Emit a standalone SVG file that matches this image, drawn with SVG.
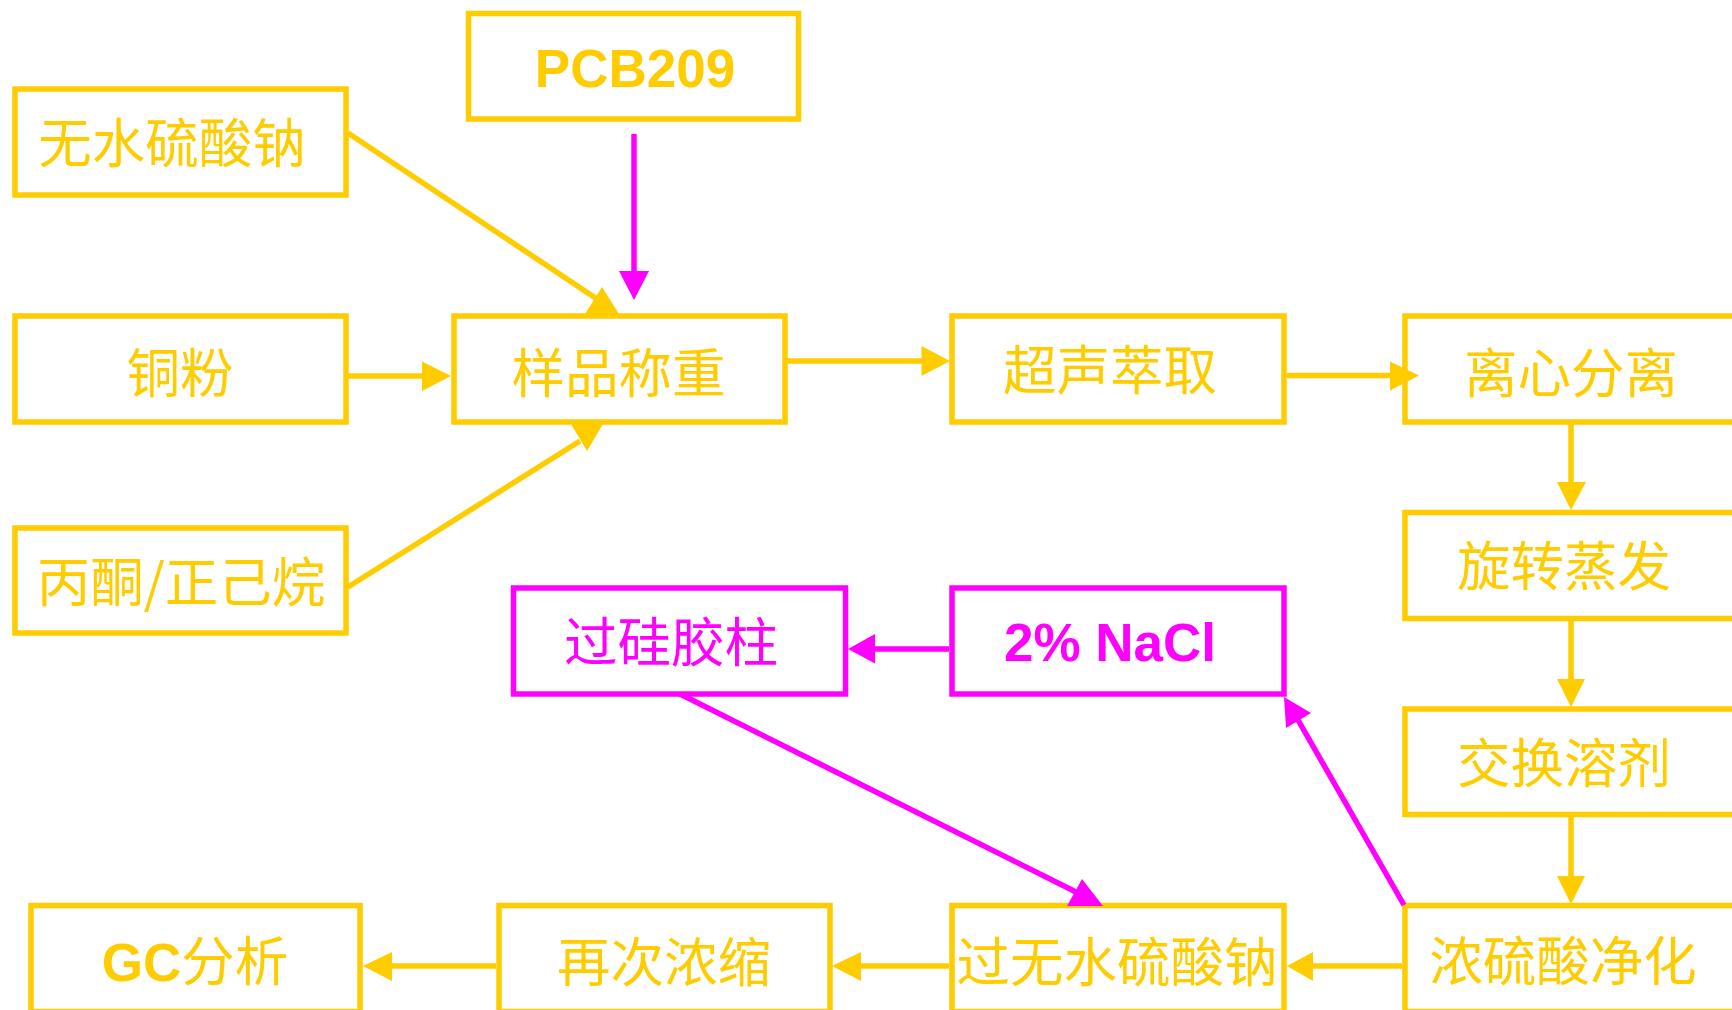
<svg xmlns="http://www.w3.org/2000/svg" width="1732" height="1010" viewBox="0 0 1732 1010">
<style>
.by{fill:#fff;stroke:#FFCC00;stroke-width:5.5}
.bm{fill:#fff;stroke:#FF00FF;stroke-width:5.5}
.ty{fill:#FFCC00;font-family:"Noto Sans CJK SC","Liberation Sans",sans-serif;font-size:53.5px;text-anchor:middle}
.tm{fill:#FF00FF;font-family:"Noto Sans CJK SC","Liberation Sans",sans-serif;font-size:53.5px;text-anchor:middle}
.bold{font-family:"Liberation Sans",Arial,sans-serif;font-weight:bold;font-size:53px}
.ly{stroke:#FFCC00;stroke-width:5.5;fill:none}
.lm{stroke:#FF00FF;stroke-width:5.5;fill:none}
.ay{fill:#FFCC00}
.am{fill:#FF00FF}
</style>
<rect width="1732" height="1010" fill="#fff"/>
<g id="n-wushui"><rect class="by" x="15" y="89" width="331" height="106"/><text class="ty" x="172" y="163">无水硫酸钠</text></g>
<g id="n-pcb209"><rect class="by" x="468.5" y="13.5" width="330" height="105.5"/><text class="ty bold" x="635" y="87">PCB209</text></g>
<g id="n-tongfen"><rect class="by" x="15" y="316" width="331" height="106"/><text class="ty" x="180" y="393">铜粉</text></g>
<g id="n-yangpin"><rect class="by" x="454" y="316" width="331" height="106"/><text class="ty" x="618.5" y="393">样品称重</text></g>
<g id="n-bingtong"><rect class="by" x="15" y="528" width="331" height="105"/><text class="ty" x="181" y="602">丙酮/正己烷</text></g>
<g id="n-chaosheng"><rect class="by" x="952" y="316" width="332" height="106"/><text class="ty" x="1110" y="390">超声萃取</text></g>
<g id="n-lixin"><rect class="by" x="1405" y="316" width="340" height="106"/><text class="ty" x="1571" y="393">离心分离</text></g>
<g id="n-xuanzhuan"><rect class="by" x="1405" y="512.5" width="340" height="106"/><text class="ty" x="1564" y="586">旋转蒸发</text></g>
<g id="n-jiaohuan"><rect class="by" x="1405" y="709" width="340" height="105.5"/><text class="ty" x="1564" y="783">交换溶剂</text></g>
<g id="n-nongliusuan"><rect class="by" x="1405" y="905.5" width="340" height="106"/><text class="ty" x="1563" y="981">浓硫酸净化</text></g>
<g id="n-guowushui"><rect class="by" x="952" y="905.5" width="332" height="106"/><text class="ty" x="1117" y="982">过无水硫酸钠</text></g>
<g id="n-zaici"><rect class="by" x="499" y="905.5" width="331" height="106"/><text class="ty" x="664" y="982">再次浓缩</text></g>
<g id="n-gc"><rect class="by" x="31" y="905.5" width="329" height="106"/><text class="ty" x="195" y="981"><tspan class="bold">GC</tspan>分析</text></g>
<g id="n-guiqiao"><rect class="bm" x="513.5" y="588" width="332" height="106"/><text class="tm" x="671" y="662">过硅胶柱</text></g>
<g id="n-nacl"><rect class="bm" x="952" y="588" width="332" height="106"/><text class="tm bold" x="1110" y="661">2% NaCl</text></g>
<g id="connectors">
<line class="ly" x1="348" y1="133" x2="597" y2="299"/><polygon class="ay" points="602,287 585,314 619,314"/>
<line class="ly" x1="348" y1="376" x2="424" y2="376"/><polygon class="ay" points="451,376 422,361.5 422,391"/>
<line class="ly" x1="348" y1="587" x2="580" y2="441"/><polygon class="ay" points="571,424 603,424 587,451"/>
<line class="ly" x1="787" y1="361" x2="923" y2="361"/><polygon class="ay" points="950,361 921.5,346 921.5,376"/>
<line class="ly" x1="1287" y1="375.5" x2="1392" y2="375.5"/><polygon class="ay" points="1419,375.5 1390,361.5 1390,390.5"/>
<line class="ly" x1="1571" y1="424" x2="1571" y2="484"/><polygon class="ay" points="1571,510 1557,482 1586,482"/>
<line class="ly" x1="1571" y1="621" x2="1571" y2="681"/><polygon class="ay" points="1571,707 1557,679 1585,679"/>
<line class="ly" x1="1571" y1="817" x2="1571" y2="878"/><polygon class="ay" points="1571,904 1557,876 1585,876"/>
<line class="ly" x1="1402" y1="966" x2="1311" y2="966"/><polygon class="ay" points="1287,966 1313,952 1313,981"/>
<line class="ly" x1="949" y1="966" x2="859" y2="966"/><polygon class="ay" points="832,966 861,952 861,981"/>
<line class="ly" x1="496" y1="966" x2="390" y2="966"/><polygon class="ay" points="363,966 392,952 392,981"/>
<line class="lm" x1="634" y1="134" x2="634" y2="273"/><polygon class="am" points="634,300 619,271 649,271"/>
<line class="lm" x1="949" y1="649" x2="873" y2="649"/><polygon class="am" points="848,649 875,634 875,663.5"/>
<line class="lm" x1="1404" y1="905" x2="1298" y2="720"/><polygon class="am" points="1284,697 1311,713 1286,728"/>
<line class="lm" x1="680" y1="694" x2="1078" y2="893"/><polygon class="am" points="1082,879 1067,906 1103,906"/>
</g>
</svg>
